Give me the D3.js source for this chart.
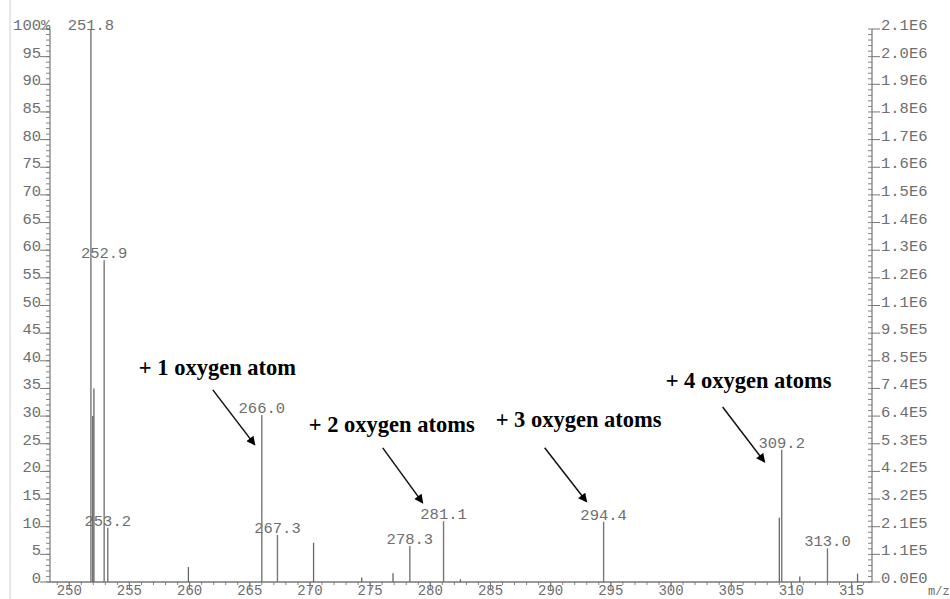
<!DOCTYPE html>
<html>
<head>
<meta charset="utf-8">
<script src="https://cdn.jsdelivr.net/npm/d3@7"></script>
<style>
  html, body { margin: 0; padding: 0; background: #fff; }
  svg { display: block; }
  .mono { font-family: "Liberation Mono", "Courier New", monospace; fill: #6e6e6e; }
  .note { font-family: "Liberation Serif", "Times New Roman", serif; font-weight: bold; fill: #000; }
</style>
</head>
<body>
<svg id="chart" width="950" height="599"></svg>
<script>
// m/z of the labelled peaks and their relative abundance (%)
const peakMz  = [251.8, 252.9, 253.2, 266.0, 267.3, 278.3, 281.1, 294.4, 309.2, 313.0];
const peakPct = [100,   58.2,  9.8,   30.2,  8.5,   6.5,   11.0,  10.9,  23.9,  6.1];

// smaller, unlabelled peaks and shoulders
const minorMz  = [251.95, 252.05, 259.9, 270.3, 274.3, 276.9, 282.5, 309.0, 310.7, 315.5];
const minorPct = [30.0,   35.0,   2.7,   7.1,   0.8,   1.6,   0.5,   11.6,  1.0,   1.5];

// axis ticks
const mzTicks  = [250, 255, 260, 265, 270, 275, 280, 285, 290, 295, 300, 305, 310, 315];
const pctTicks = [0, 5, 10, 15, 20, 25, 30, 35, 40, 45, 50, 55, 60, 65, 70, 75, 80, 85, 90, 95, 100];
const absLabels = ["0.0E0", "1.1E5", "2.1E5", "3.2E5", "4.2E5", "5.3E5", "6.4E5", "7.4E5",
                   "8.5E5", "9.5E5", "1.1E6", "1.2E6", "1.3E6", "1.4E6", "1.5E6", "1.6E6",
                   "1.7E6", "1.8E6", "1.9E6", "2.0E6", "2.1E6"];

// annotations: text and the point (m/z, %) the arrow points at
const noteText = ["+ 1 oxygen atom", "+ 2 oxygen atoms", "+ 3 oxygen atoms", "+ 4 oxygen atoms"];
const noteMz   = [265.42, 279.37, 292.99, 307.78];
const notePct  = [24.8, 14.3, 14.5, 21.7];

const svg = d3.select("#chart");
const plotL = 50, plotR = 872, plotT = 29, plotB = 582;

const x = d3.scaleLinear().domain([248.4, 316.7]).range([plotL, plotR]);
const y = d3.scaleLinear().domain([0, 100]).range([plotB, plotT]);

const grey = "#777";

// scan edge on the left
svg.append("line").attr("x1", 10).attr("x2", 10).attr("y1", 0).attr("y2", 599)
  .attr("stroke", "#cfcfcf").attr("stroke-width", 1);

// ---- left axis (relative abundance)
const gL = svg.append("g");
gL.append("line").attr("x1", plotL).attr("x2", plotL).attr("y1", plotT).attr("y2", plotB)
  .attr("stroke", grey).attr("stroke-width", 1.2);
gL.selectAll("line.minor").data(d3.range(0, 101, 1)).join("line")
  .attr("class", "minor")
  .attr("x1", plotL - 4).attr("x2", plotL)
  .attr("y1", d => y(d)).attr("y2", d => y(d))
  .attr("stroke", grey).attr("stroke-width", 0.9);
gL.selectAll("line.major").data(pctTicks).join("line")
  .attr("class", "major")
  .attr("x1", plotL - 10).attr("x2", plotL)
  .attr("y1", d => y(d)).attr("y2", d => y(d))
  .attr("stroke", grey).attr("stroke-width", 1);
gL.selectAll("text").data(pctTicks).join("text")
  .attr("class", "mono")
  .attr("x", plotL - 9).attr("y", d => y(d) + 1)
  .attr("text-anchor", "end")
  .style("font-size", "15.5px")
  .text(d => d);
gL.append("text").attr("class", "mono")
  .attr("x", plotL - 9).attr("y", y(100) + 1)
  .style("font-size", "15.5px").text("%");

// ---- right axis (absolute intensity)
const gR = svg.append("g");
gR.append("line").attr("x1", plotR).attr("x2", plotR).attr("y1", plotT).attr("y2", plotB)
  .attr("stroke", grey).attr("stroke-width", 1.2);
gR.selectAll("line.minor").data(d3.range(0, 101, 1)).join("line")
  .attr("class", "minor")
  .attr("x1", plotR - 4).attr("x2", plotR)
  .attr("y1", d => y(d)).attr("y2", d => y(d))
  .attr("stroke", grey).attr("stroke-width", 0.9);
gR.selectAll("line.major").data(pctTicks).join("line")
  .attr("class", "major")
  .attr("x1", plotR).attr("x2", plotR + 8)
  .attr("y1", d => y(d)).attr("y2", d => y(d))
  .attr("stroke", grey).attr("stroke-width", 1);
gR.selectAll("text").data(pctTicks).join("text")
  .attr("class", "mono")
  .attr("x", plotR + 9).attr("y", d => y(d) + 1)
  .style("font-size", "15.5px")
  .text((d, i) => absLabels[i]);

// ---- m/z axis
const gB = svg.append("g");
gB.append("line").attr("x1", plotL).attr("x2", plotR).attr("y1", plotB).attr("y2", plotB)
  .attr("stroke", grey).attr("stroke-width", 1.3);
gB.selectAll("line.minor").data(d3.range(249, 317, 1)).join("line")
  .attr("class", "minor")
  .attr("x1", d => x(d)).attr("x2", d => x(d))
  .attr("y1", plotB).attr("y2", plotB + 3)
  .attr("stroke", grey).attr("stroke-width", 0.9);
gB.selectAll("line.major").data(mzTicks).join("line")
  .attr("class", "major")
  .attr("x1", d => x(d)).attr("x2", d => x(d))
  .attr("y1", plotB).attr("y2", plotB + 8)
  .attr("stroke", grey).attr("stroke-width", 1);
gB.selectAll("text").data(mzTicks).join("text")
  .attr("class", "mono")
  .attr("x", d => x(d)).attr("y", 595)
  .attr("text-anchor", "middle")
  .style("font-size", "14px")
  .text(d => d);
gB.append("text").attr("class", "mono")
  .attr("x", 928).attr("y", 595)
  .style("font-size", "12px").text("m/z");

// ---- peaks
const minor = minorMz.map((m, i) => ({ mz: m, pct: minorPct[i] }));
const peaks = peakMz.map((m, i) => ({ mz: m, pct: peakPct[i] }));

svg.append("g").selectAll("line").data(minor).join("line")
  .attr("x1", d => x(d.mz)).attr("x2", d => x(d.mz))
  .attr("y1", plotB).attr("y2", d => y(d.pct))
  .attr("stroke", "#666").attr("stroke-width", 1.3);

svg.append("g").selectAll("line").data(peaks).join("line")
  .attr("x1", d => x(d.mz)).attr("x2", d => x(d.mz))
  .attr("y1", plotB).attr("y2", d => y(d.pct))
  .attr("stroke", "#777").attr("stroke-width", 1.4);

svg.append("g").selectAll("text").data(peaks).join("text")
  .attr("class", "mono")
  .attr("x", d => x(d.mz)).attr("y", d => Math.max(y(d.pct) - 2, plotT + 1))
  .attr("text-anchor", "middle")
  .style("font-size", "15.5px")
  .text(d => d.mz.toFixed(1));

// ---- annotations with arrows
svg.append("defs").append("marker")
  .attr("id", "head").attr("viewBox", "0 0 10 10")
  .attr("refX", 9).attr("refY", 5)
  .attr("markerWidth", 10).attr("markerHeight", 9)
  .attr("markerUnits", "userSpaceOnUse")
  .attr("orient", "auto")
  .append("path").attr("d", "M0,0 L10,5 L0,10 Z").attr("fill", "#000");

// text start and arrow tail, relative to the arrow tip
const noteLayout = [
  { tx: -116, ty: -70, ax: -42, ay: -55 },
  { tx: -114, ty: -71, ax: -40, ay: -55 },
  { tx: -91,  ty: -75, ax: -42, ay: -54 },
  { tx: -99,  ty: -74, ax: -42, ay: -55 }
];
const notes = noteText.map((t, i) => ({ text: t, px: x(noteMz[i]), py: y(notePct[i]), l: noteLayout[i] }));

const gN = svg.append("g");
gN.selectAll("line").data(notes).join("line")
  .attr("x1", d => d.px + d.l.ax).attr("y1", d => d.py + d.l.ay)
  .attr("x2", d => d.px).attr("y2", d => d.py)
  .attr("stroke", "#111").attr("stroke-width", 1.5)
  .attr("marker-end", "url(#head)");
gN.selectAll("text").data(notes).join("text")
  .attr("class", "note")
  .attr("x", d => d.px + d.l.tx).attr("y", d => d.py + d.l.ty)
  .style("font-size", "22.5px")
  .text(d => d.text);
</script>
</body>
</html>
